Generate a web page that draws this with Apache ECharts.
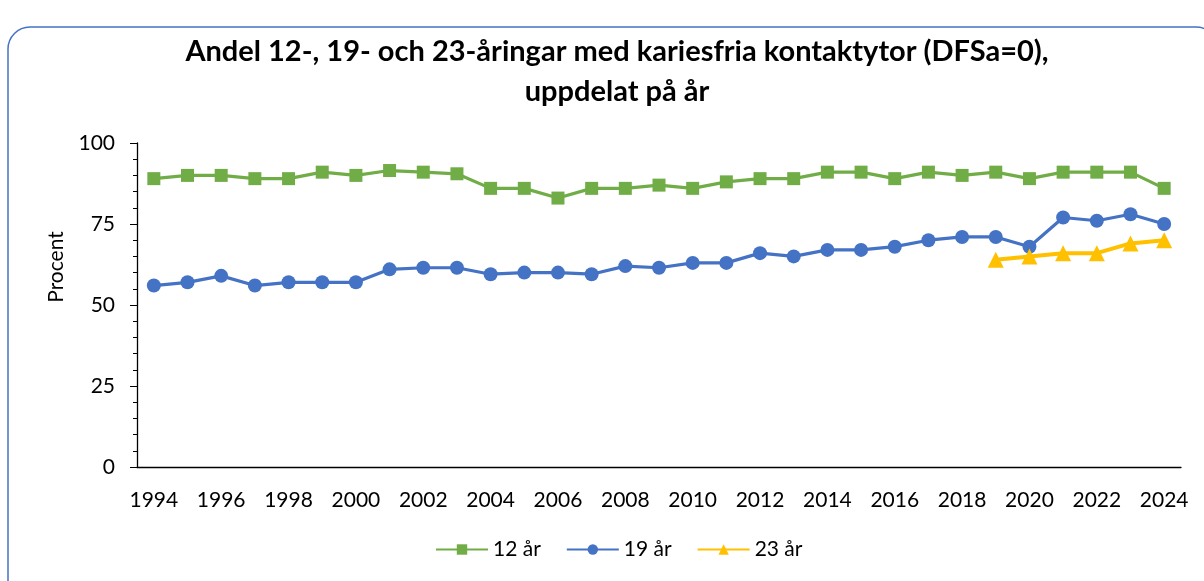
<!DOCTYPE html>
<html>
<head>
<meta charset="utf-8">
<script src="https://cdn.jsdelivr.net/npm/echarts@6/dist/echarts.min.js"></script>
<style>
  html, body { margin: 0; padding: 0; background: #fff; }
  #chart { width: 1204px; height: 581px; }
</style>
</head>
<body>
<div id="chart"></div>
<script>
// år på x-axeln
var years = [];
for (var y = 1994; y <= 2024; y++) { years.push(String(y)); }

// andel kariesfria (procent)
var age12 = [89, 90, 90, 89, 89, 91, 90, 91.5, 91, 90.5, 86, 86, 83, 86, 86, 87, 86, 88, 89, 89, 91, 91, 89, 91, 90, 91, 89, 91, 91, 91, 86];
var age19 = [56, 57, 59, 56, 57, 57, 57, 61, 61.5, 61.5, 59.5, 60, 60, 59.5, 62, 61.5, 63, 63, 66, 65, 67, 67, 68, 70, 71, 71, 68, 77, 76, 78, 75];
var age23 = [null, null, null, null, null, null, null, null, null, null, null, null, null, null, null, null, null, null, null, null, null, null, null, null, null, 64, 65, 66, 66, 69, 70];

var yTicks = [0, 25, 50, 75, 100];

var font = 'Lato';
var chart = echarts.init(document.getElementById('chart'));

var option = {
  backgroundColor: '#fff',
  textStyle: { fontFamily: font },
  title: {
    text: 'Andel 12-, 19- och 23-åringar med kariesfria kontaktytor (DFSa=0),\nuppdelat på år',
    left: 612,
    top: 27,
    textAlign: 'center',
    textStyle: { fontFamily: font, fontSize: 29, fontWeight: 'bold', color: '#000', lineHeight: 40 }
  },
  graphic: [{
    type: 'rect',
    shape: { x: 8, y: 27, width: 1210, height: 580, r: 22 },
    style: { fill: 'none', stroke: '#4472C4', lineWidth: 1.5 },
    silent: true
  }],
  grid: { left: 137, right: 23, top: 143, bottom: 114 },
  legend: {
    bottom: 16,
    left: 430,
    itemWidth: 52,
    itemHeight: 13,
    itemGap: 25,
    textStyle: { fontFamily: font, fontSize: 21, color: '#000' },
    data: ['12 år', '19 år', '23 år']
  },
  xAxis: {
    type: 'category',
    data: years,
    boundaryGap: true,
    axisLine: { lineStyle: { color: '#000', width: 1.3 } },
    axisTick: { interval: 0, alignWithLabel: true, length: 6, lineStyle: { color: '#000' } },
    axisLabel: { interval: 1, margin: 23, fontSize: 21, color: '#000', fontFamily: font }
  },
  yAxis: {
    type: 'value',
    min: yTicks[0],
    max: yTicks[yTicks.length - 1],
    interval: 25,
    name: 'Procent',
    nameLocation: 'middle',
    nameGap: 70,
    nameTextStyle: { fontSize: 21, color: '#000', fontFamily: font, padding: [0, 0, 0, 76] },
    axisLine: { show: true, lineStyle: { color: '#000', width: 1.3 } },
    axisTick: { show: true, length: 7, lineStyle: { color: '#000' } },
    minorTick: { show: true, splitNumber: 5, length: 4, lineStyle: { color: '#000' } },
    splitLine: { show: false },
    axisLabel: { margin: 22, fontSize: 21, color: '#000', fontFamily: font }
  },
  series: [
    {
      name: '12 år', type: 'line', data: age12,
      symbol: 'rect', symbolSize: 13,
      lineStyle: { width: 3.2, color: '#70AD47' },
      itemStyle: { color: '#70AD47' }
    },
    {
      name: '19 år', type: 'line', data: age19,
      symbol: 'circle', symbolSize: 14,
      lineStyle: { width: 3.2, color: '#4472C4' },
      itemStyle: { color: '#4472C4' }
    },
    {
      name: '23 år', type: 'line', data: age23,
      symbol: 'triangle', symbolSize: 16,
      lineStyle: { width: 4, color: '#FFC000' },
      itemStyle: { color: '#FFC000' }
    }
  ]
};

chart.setOption(option);
</script>
</body>
</html>
